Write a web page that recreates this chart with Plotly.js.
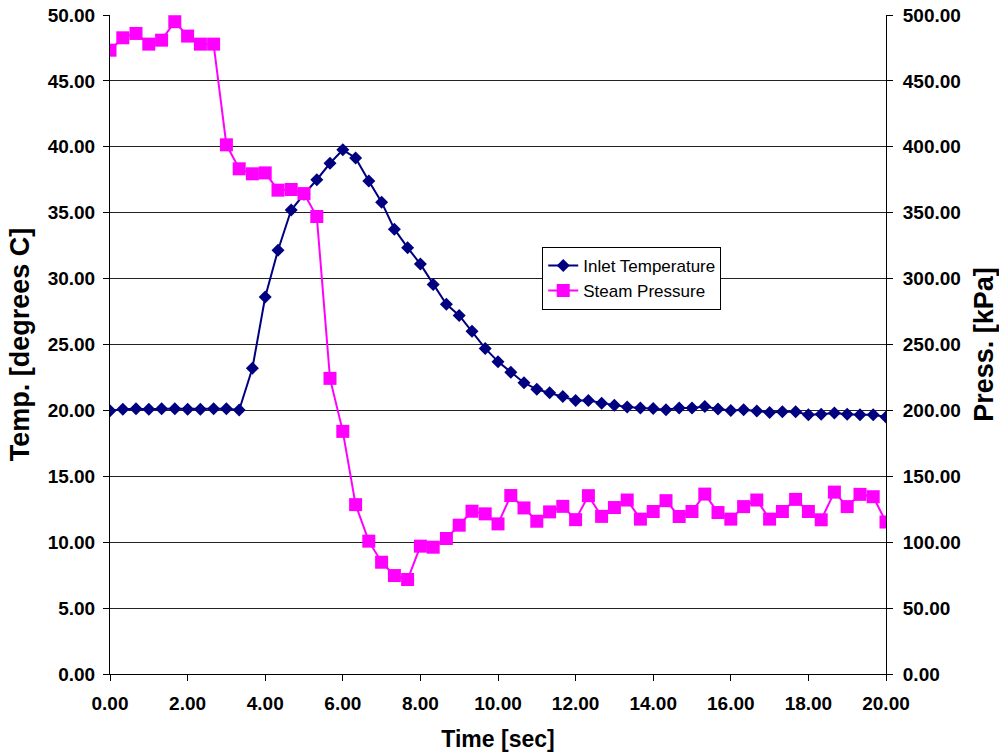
<!DOCTYPE html>
<html>
<head>
<meta charset="utf-8">
<script src="https://cdn.plot.ly/plotly-3.0.1.min.js"></script>
<style>
html,body{margin:0;padding:0;background:#fff;}
#chart{width:999px;height:756px;}
</style>
</head>
<body>
<div id="chart"></div>
<script>
const timeSec = [0.00,0.33,0.67,1.00,1.33,1.67,2.00,2.33,2.67,3.00,3.33,3.67,4.00,4.33,4.67,5.00,5.33,5.67,6.00,6.33,6.67,7.00,7.33,7.67,8.00,8.33,8.67,9.00,9.33,9.67,10.00,10.33,10.67,11.00,11.33,11.67,12.00,12.33,12.67,13.00,13.33,13.67,14.00,14.33,14.67,15.00,15.33,15.67,16.00,16.33,16.67,17.00,17.33,17.67,18.00,18.33,18.67,19.00,19.33,19.67,20.00];

const inletTemperature = [19.97,20.08,20.13,20.08,20.13,20.13,20.08,20.08,20.13,20.13,20.03,23.2,28.6,32.15,35.2,36.4,37.5,38.75,39.77,39.15,37.4,35.8,33.75,32.35,31.1,29.55,28.05,27.2,26.0,24.7,23.7,22.9,22.1,21.6,21.33,21.06,20.75,20.75,20.55,20.4,20.25,20.18,20.15,20.05,20.18,20.18,20.3,20.1,20.0,20.05,19.95,19.85,19.9,19.9,19.67,19.7,19.8,19.7,19.67,19.67,19.5];

const steamPressure = [473.3,482.7,486.0,477.9,480.9,494.9,484.0,477.9,477.9,401.5,383.3,379.5,380.2,367.1,367.6,364.5,347.1,224.3,184.1,128.5,100.8,84.8,74.7,71.7,97.0,96.2,102.8,112.9,123.5,121.5,113.9,135.4,126.0,115.9,123.0,127.2,117.1,135.3,119.6,126.3,132.0,117.5,123.3,131.5,119.5,123.3,136.5,122.5,117.5,127.0,132.0,117.5,123.3,132.5,123.3,117.0,138.0,127.0,136.3,134.5,115.3];

const seriesNames = ["Inlet Temperature", "Steam Pressure"];

const FONT = "Liberation Sans, Arial, sans-serif";
const tickFont = {family: FONT, size: 19, color: "#000", weight: "bold"};

const traces = [
  {
    x: timeSec, y: inletTemperature, name: seriesNames[0], type: "scatter", mode: "lines+markers",
    yaxis: "y",
    line: {color: "#000080", width: 2},
    marker: {symbol: "diamond", size: 10, color: "#000080", line: {width: 0}}
  },
  {
    x: timeSec, y: steamPressure, name: seriesNames[1], type: "scatter", mode: "lines+markers",
    yaxis: "y2",
    line: {color: "#FF00FF", width: 2},
    marker: {symbol: "square", size: 13, color: "#FF00FF", line: {width: 0}}
  }
];

const layout = {
  width: 999, height: 756,
  margin: {l: 110, r: 113, t: 15, b: 82, pad: 0},
  paper_bgcolor: "#fff", plot_bgcolor: "#fff",
  showlegend: true,
  hovermode: false,
  legend: {
    x: 0.557, y: 0.648, xanchor: "left", yanchor: "top",
    bgcolor: "#fff", bordercolor: "#000", borderwidth: 1,
    font: {family: FONT, size: 17, color: "#000"},
    tracegroupgap: 0
  },
  xaxis: {
    range: [0, 20], dtick: 2, tick0: 0, tickformat: ".2f",
    showgrid: false, zeroline: false,
    showline: true, linecolor: "#000", linewidth: 1,
    ticks: "outside", ticklen: 6, tickcolor: "#000",
    tickfont: tickFont, ticklabelstandoff: 6,
    title: {text: "Time [sec]", font: {family: FONT, size: 23, color: "#000", weight: "bold"}, standoff: 18}
  },
  yaxis: {
    range: [0, 50], dtick: 5, tick0: 0, tickformat: ".2f",
    showgrid: true, gridcolor: "#222", gridwidth: 1,
    zeroline: false,
    showline: true, linecolor: "#000", linewidth: 1,
    ticks: "outside", ticklen: 6, tickcolor: "#000",
    tickfont: tickFont, ticklabelstandoff: 4,
    title: {text: "Temp. [degrees C]", font: {family: FONT, size: 27, color: "#000", weight: "bold"}, standoff: 10}
  },
  yaxis2: {
    range: [0, 500], dtick: 50, tick0: 0, tickformat: ".2f",
    overlaying: "y", side: "right",
    showgrid: false, zeroline: false,
    showline: true, linecolor: "#000", linewidth: 1,
    ticks: "outside", ticklen: 6, tickcolor: "#000",
    tickfont: tickFont, ticklabelstandoff: 6,
    title: {text: "Press. [kPa]", font: {family: FONT, size: 27, color: "#000", weight: "bold"}, standoff: 16}
  }
};

Plotly.newPlot("chart", traces, layout, {staticPlot: true, displayModeBar: false});
</script>
</body>
</html>
